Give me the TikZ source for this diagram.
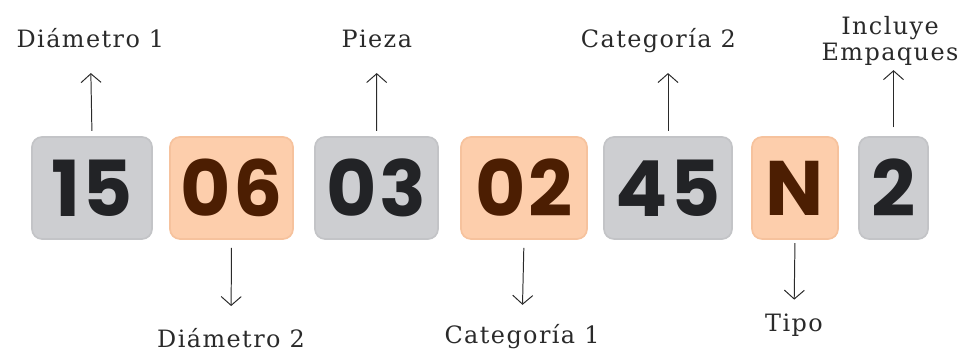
\documentclass[tikz,border=0pt]{standalone}
\usepackage{fontspec}
\usepackage{tikz}
\usetikzlibrary{positioning,arrows.meta}
\usepackage{xcolor}

\newfontfamily\labfont{DejaVu Serif}[LetterSpace=6]
\newfontfamily\digfont{Poppins}[LetterSpace=3]
\definecolor{boxgray}{HTML}{CDCED1}
\definecolor{boxgrayline}{HTML}{C3C4C7}
\definecolor{boxorange}{HTML}{FDCEAC}
\definecolor{boxorangeline}{HTML}{F6C29D}
\definecolor{numgray}{HTML}{222326}
\definecolor{numbrown}{HTML}{4C1E02}
\definecolor{labtext}{HTML}{2A2A2A}

\begin{document}
\begin{tikzpicture}[>={Straight Barb[length=2.2mm,width=5mm]},
  numbox/.style={rounded corners=2.5mm,line width=1.2pt,minimum height=2.55cm,inner sep=0pt,
    font=\digfont\bfseries\fontsize{55}{55}\selectfont},
  graybox/.style={numbox,draw=boxgrayline,fill=boxgray,text=numgray},
  orangebox/.style={numbox,draw=boxorangeline,fill=boxorange,text=numbrown},
  lab/.style={inner sep=0pt,anchor=base,text height=12pt,text depth=0pt,align=center,text=labtext,
    font=\labfont\fontsize{17}{18.4}\selectfont},
  up/.style={->,line width=0.7pt,draw=labtext,shorten <=1.3mm,shorten >=6.2mm},
  down/.style={->,line width=0.7pt,draw=labtext,shorten <=2mm,shorten >=6.2mm}]
\useasboundingbox (0,0) rectangle (24.275,8.875);

% cajas del codigo
\node[graybox,minimum width=3cm] (b15) at (2.3,4.175) {15};
\node[orangebox,minimum width=3.075cm] (b06) at (5.7875,4.175) {06};
\node[graybox,minimum width=3.075cm] (b03) at (9.4125,4.175) {03};
\node[orangebox,minimum width=3.15cm] (b02) at (13.1,4.175) {02};
\node[graybox,minimum width=3.2cm] (b45) at (16.7,4.175) {45};
\node[orangebox,minimum width=2.15cm] (bN) at (19.875,4.175) {N};
\node[graybox,minimum width=1.725cm] (b2) at (22.3375,4.175) {2};

% etiquetas de arriba
\node[lab] (diam1) at (2.26,7.675) {Diámetro 1};
\node[lab] (pieza) at (9.42,7.675) {Pieza};
\node[lab] (cat2) at (16.46,7.675) {Categoría 2};
\node[lab,anchor=south,text height=] (empaq) at (22.25,7.35) {Incluye\\Empaques};

% etiquetas de abajo
\node[lab] (diam2) at (5.775,0.175) {Diámetro 2};
\node[lab] (cat1) at (13.05,0.275) {Categoría 1};
\node[lab] (tipo) at (19.85,0.575) {Tipo};

\draw[up] (b15.north) -- (diam1.south);
\draw[up] (b03.north) -- (pieza.south);
\draw[up] (b45.north) -- (b45.north |- cat2.south);
\draw[up,shorten <=2.2mm,shorten >=2.3mm] (b2.north) -- (b2.north |- empaq.south);
\draw[down] (b06.south) -- (diam2.north);
\draw[down,shorten >=5.5mm] (b02.south) -- (cat1.north);
\draw[down,shorten <=0.8mm,shorten >=3.8mm] (bN.south) -- (tipo.north);
\end{tikzpicture}
\end{document}
